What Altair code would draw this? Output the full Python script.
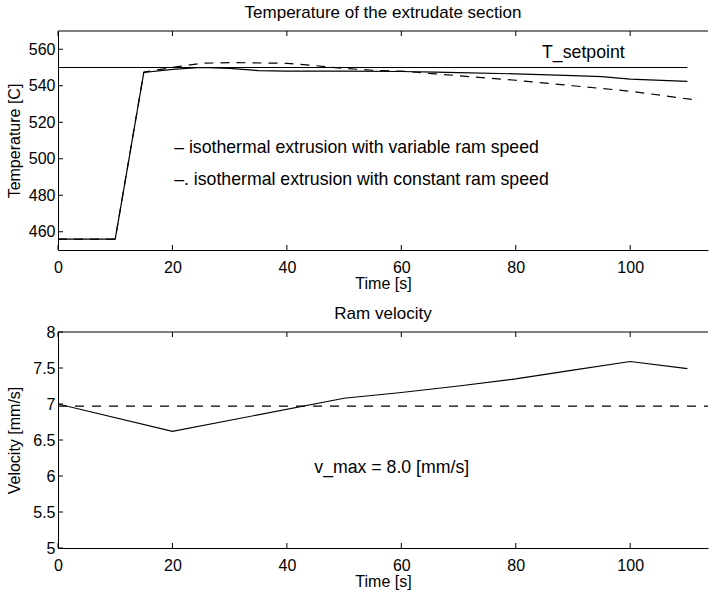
import altair as alt
import pandas as pd

# ---------------- data ----------------
x_ticks = [0, 20, 40, 60, 80, 100]
temp_ticks = [460, 480, 500, 520, 540, 560]
vel_ticks = [5, 5.5, 6, 6.5, 7, 7.5, 8]

time_var = [0, 10, 15, 20, 25, 30, 35, 40, 50, 60, 66, 70, 80, 90, 95, 100, 110]
temp_var = [456, 456, 547.3, 549, 550, 549.5, 548.3, 548, 548, 547.8, 547.5,
            547.2, 546.5, 545.5, 545, 543.6, 542.4]

time_const = [0, 10, 15, 20, 25, 30, 40, 45, 50, 55, 60, 66, 70, 80, 90, 100, 112]
temp_const = [456, 456, 547.5, 550, 552.3, 552.7, 552.3, 551, 549.5, 548.5, 548,
              546.5, 545.5, 543, 540, 537, 532]

setpoint_time = [0, 110]
setpoint_temp = [550, 550]

vel_time = [0, 0, 20, 50, 60, 70, 80, 90, 100, 110]
vel_var = [6.58, 7.0, 6.62, 7.08, 7.16, 7.25, 7.35, 7.47, 7.59, 7.49]

vel_const_time = [0, 114]
vel_const = [6.97, 6.97]

top_labels = ["– isothermal extrusion with variable ram speed",
              "–. isothermal extrusion with constant ram speed",
              "T_setpoint"]
top_label_x = [20.3, 20.3, 84.6]
top_label_y = [505.9, 488.4, 558.2]

bot_labels = ["v_max = 8.0 [mm/s]"]
bot_label_x = [44.8]
bot_label_y = [6.11]

# ---------------- style ----------------
FONT = "Liberation Sans"
FS_T = 17      # panel titles
FS = 16        # tick labels
FS_AX = 16     # axis titles
FS_TXT = 17.7  # annotations
W = 650
H1, H2 = 219, 216
XMAX = 113.6
TICK = 5

xs = alt.Scale(domain=[0, XMAX], nice=False, zero=False)
ys1 = alt.Scale(domain=[450, 570], nice=False, zero=False)
ys2 = alt.Scale(domain=[5, 8], nice=False, zero=False)


def xaxis():
    return alt.Axis(values=x_ticks, title="Time [s]", ticks=False, tickSize=0,
                    grid=False, domain=True, domainColor="black", domainWidth=1,
                    labelFont=FONT, labelFontSize=FS, labelColor="black",
                    labelPadding=9, labelFlush=False, format="d",
                    titleFont=FONT, titleFontSize=FS_AX, titleFontWeight="normal",
                    titleColor="black", titlePadding=0)


def yaxis(vals, title, fmt):
    return alt.Axis(values=vals, title=title, ticks=False, tickSize=0,
                    grid=False, domain=True, domainColor="black", domainWidth=1,
                    labelFont=FONT, labelFontSize=FS, labelColor="black",
                    labelPadding=3, labelFlush=False, format=fmt, minExtent=31,
                    titleFont=FONT, titleFontSize=FS_AX, titleFontWeight="normal",
                    titleColor="black", titlePadding=5)


def title(text, offset):
    return alt.TitleParams(text, font=FONT, fontSize=FS_T, fontWeight="normal",
                           color="black", anchor="middle", offset=offset)


def panel(series, yscale, yvals, ytitle, fmt, H, labels_df, ttl, toff):
    yax = yaxis(yvals, ytitle, fmt)
    layers = []
    for (tx, ty, dash) in series:
        df = pd.DataFrame({"time": tx, "val": ty, "order": list(range(len(tx)))})
        mk = alt.Chart(df).mark_line(color="black", strokeWidth=1.2,
                                     clip=True, **({"strokeDash": dash} if dash else {}))
        layers.append(mk.encode(
            x=alt.X("time:Q", scale=xs, axis=xaxis()),
            y=alt.Y("val:Q", scale=yscale, axis=yax),
            order="order:Q"))
    xt = pd.DataFrame({"time": x_ticks})
    layers.append(alt.Chart(xt).mark_rule(color="black", strokeWidth=1).encode(
        x=alt.X("time:Q", scale=xs, axis=xaxis()),
        y=alt.value(H), y2=alt.value(H - TICK)))
    layers.append(alt.Chart(xt).mark_rule(color="black", strokeWidth=1).encode(
        x=alt.X("time:Q", scale=xs, axis=xaxis()),
        y=alt.value(0), y2=alt.value(TICK)))
    yt = pd.DataFrame({"val": yvals})
    layers.append(alt.Chart(yt).mark_rule(color="black", strokeWidth=1).encode(
        y=alt.Y("val:Q", scale=yscale, axis=yax),
        x=alt.value(0), x2=alt.value(TICK)))
    layers.append(alt.Chart(pd.DataFrame({"a": [0]})).mark_rule(
        color="black", strokeWidth=1).encode(
        y=alt.value(0), x=alt.value(0), x2=alt.value(W)))
    layers.append(alt.Chart(labels_df).mark_text(
        align="left", baseline="middle", font=FONT, fontSize=FS_TXT, color="black").encode(
        x=alt.X("time:Q", scale=xs, axis=xaxis()),
        y=alt.Y("val:Q", scale=yscale, axis=yax),
        text="label:N"))
    return alt.layer(*layers).properties(width=W, height=H, title=title(ttl, toff))


top = panel(
    [(setpoint_time, setpoint_temp, None),
     (time_var, temp_var, None),
     (time_const, temp_const, [9, 7])],
    ys1, temp_ticks, "Temperature [C]", "d", H1,
    pd.DataFrame({"time": top_label_x, "val": top_label_y, "label": top_labels}),
    "Temperature of the extrudate section", 9)

bottom = panel(
    [(vel_time, vel_var, None),
     (vel_const_time, vel_const, [9, 8])],
    ys2, vel_ticks, "Velocity [mm/s]", "~g", H2,
    pd.DataFrame({"time": bot_label_x, "val": bot_label_y, "label": bot_labels}),
    "Ram velocity", 1)

chart = alt.vconcat(top, bottom, spacing=14).properties(
    padding={"left": 6, "top": 3, "right": 0, "bottom": 4},
    background="white",
).configure_view(stroke=None)

chart.save("out.html", embed_options={"renderer": "svg", "actions": False})
